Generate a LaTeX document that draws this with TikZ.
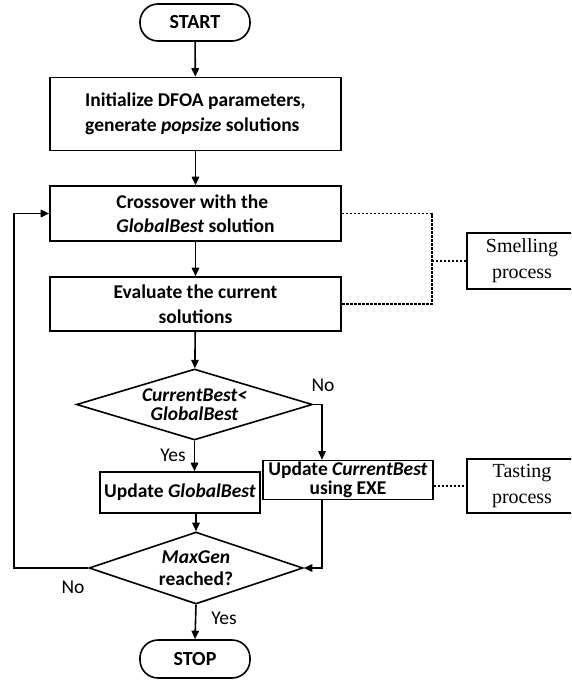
\documentclass[tikz,border=0pt]{standalone}
\usepackage{fontspec}
\setmainfont{Carlito}
\newfontfamily\tnr{Liberation Serif}
\usetikzlibrary{shapes.geometric,arrows.meta}
\begin{document}
\begin{tikzpicture}[x=1pt,y=-1pt,
 line width=1.6pt,
 box/.style={draw, rectangle, inner sep=0pt, font=\bfseries\fontsize{19.5}{24.5}\selectfont},
 term/.style={draw, rounded corners=18pt, minimum width=110pt, inner sep=0pt, font=\bfseries\fontsize{20}{20}\selectfont},
 dia/.style={draw, diamond, inner sep=0pt},
 dtext/.style={align=center, inner sep=0pt, font=\bfseries\fontsize{19.5}{19}\selectfont},
 side/.style={draw, align=center, inner sep=0pt, minimum width=110pt, font=\tnr\fontsize{20}{26}\selectfont},
 lab/.style={inner sep=0pt, font=\fontsize{19.5}{20}\selectfont},
 arr/.style={-{Triangle[length=8.5pt,width=7.5pt]}},
 dot/.style={dash pattern=on 2.5pt off 1.5pt, line width=1.3pt}
]
\clip (0,0) rectangle (571,683);
\fill[white] (0,0) rectangle (571,683);

\node[term, minimum height=37pt] (start) at (195,22.5) {START};
\node[box, align=left, minimum width=291pt, minimum height=73pt] (init) at (195.5,114) {Initialize DFOA parameters,\\generate \textit{popsize} solutions};
\node[box, align=left, minimum width=291pt, minimum height=55pt] (cross) at (195.5,213.5) {Crossover with the\\\textit{GlobalBest} solution};
\node[box, align=center, minimum width=291pt, minimum height=54pt] (eval) at (195.5,304) {Evaluate the current\\solutions};
\node[dia, minimum width=236pt, minimum height=71pt] (d1) at (194.5,404.5) {};
\node[dtext] (d1t) at (d1) {\textit{CurrentBest<}\\\textit{GlobalBest}};
\node[box, minimum width=160pt, minimum height=41pt] (ugb) at (180,492.5) {Update \textit{GlobalBest}};
\node[box, align=center, minimum width=170pt, minimum height=39pt, font=\bfseries\fontsize{19.5}{19}\selectfont] (ucb) at (348,480) {Update \textit{CurrentBest}\\using EXE};
\node[dia, minimum width=214pt, minimum height=72pt] (d2) at (196,568) {};
\node[dtext, font=\bfseries\fontsize{19.5}{21.5}\selectfont] (d2t) at (d2) {\textit{MaxGen}\\reached?};
\node[term, minimum height=38pt] (stop) at (195,659) {STOP};
\node[side, minimum height=56pt] (smell) at (522,261) {Smelling\\process};
\node[side, minimum height=54pt] (taste) at (522,486) {Tasting\\process};

\node[lab] (no1) at (323,385) {No};
\node[lab] (yes1) at (173,455) {Yes};
\node[lab] (no2) at (73,587) {No};
\node[lab] (yes2) at (224,618) {Yes};

\coordinate (nx) at (322,0);
\coordinate (lx) at (14,0);
\coordinate (dx) at (432,0);

\draw[arr] (start) -- (init);
\draw[arr] (init) -- (cross);
\draw[arr] (cross) -- (eval);
\draw[arr] (eval) -- (d1);
\draw[arr] (d1.south) -- (d1.south |- ugb.north);
\draw[arr] (d1.east) -- (d1.east -| nx) -- (nx |- ucb.north);
\draw[arr] (nx |- ucb.south) |- (d2.east);
\draw[arr] (d2.north |- ugb.south) -- (d2.north);
\draw[arr] (d2.west) -- (d2.west -| lx) |- (cross.west);
\draw[arr] (d2.south) -- (stop.north);

\draw[dot] (cross.east) -- (cross.east -| dx) -- (eval.east -| dx) -- (eval.east);
\draw[dot] (smell.west) -- (smell.west -| dx);
\draw[dot] (ucb.east |- taste.west) -- (taste.west);
\end{tikzpicture}
\end{document}
